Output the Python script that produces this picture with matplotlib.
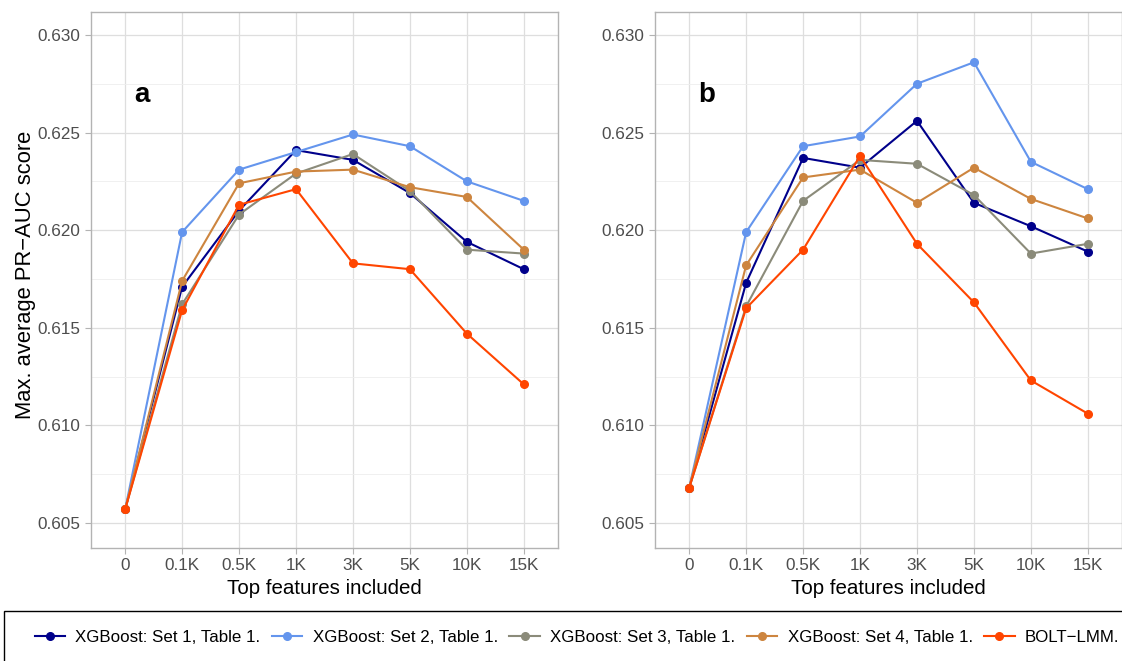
import numpy as np
import matplotlib.pyplot as plt
from matplotlib.patches import Rectangle
from matplotlib.ticker import MultipleLocator

plt.rcParams['font.family'] = ['Liberation Sans', 'DejaVu Sans']

# categorias del eje x
features = ['0', '0.1K', '0.5K', '1K', '3K', '5K', '10K', '15K']

series_names = ['XGBoost: Set 1, Table 1.', 'XGBoost: Set 2, Table 1.',
                'XGBoost: Set 3, Table 1.', 'XGBoost: Set 4, Table 1.', 'BOLT\u2212LMM.']
colors = ['#00008B', '#6495ED', '#8B8B7A', '#CD853F', '#FF4500']

# panel a
a_set1 = [0.6057, 0.6171, 0.6210, 0.6241, 0.6236, 0.6219, 0.6194, 0.6180]
a_set2 = [0.6057, 0.6199, 0.6231, 0.6240, 0.6249, 0.6243, 0.6225, 0.6215]
a_set3 = [0.6057, 0.6162, 0.6208, 0.6229, 0.6239, 0.6220, 0.6190, 0.6188]
a_set4 = [0.6057, 0.6174, 0.6224, 0.6230, 0.6231, 0.6222, 0.6217, 0.6190]
a_bolt = [0.6057, 0.6159, 0.6213, 0.6221, 0.6183, 0.6180, 0.6147, 0.6121]

# panel b
b_set1 = [0.6068, 0.6173, 0.6237, 0.6232, 0.6256, 0.6214, 0.6202, 0.6189]
b_set2 = [0.6068, 0.6199, 0.6243, 0.6248, 0.6275, 0.6286, 0.6235, 0.6221]
b_set3 = [0.6068, 0.6161, 0.6215, 0.6236, 0.6234, 0.6218, 0.6188, 0.6193]
b_set4 = [0.6068, 0.6182, 0.6227, 0.6231, 0.6214, 0.6232, 0.6216, 0.6206]
b_bolt = [0.6068, 0.6160, 0.6190, 0.6238, 0.6193, 0.6163, 0.6123, 0.6106]

panels = [('a', [a_set1, a_set2, a_set3, a_set4, a_bolt]),
          ('b', [b_set1, b_set2, b_set3, b_set4, b_bolt])]

fig = plt.figure(figsize=(11.22, 6.61), dpi=100)
ax_a = fig.add_axes([0.0811, 0.171, 0.4162, 0.811])
ax_b = fig.add_axes([0.5838, 0.171, 0.4162, 0.811])

x = np.arange(len(features))
for ax, (letter, data) in zip([ax_a, ax_b], panels):
    for vals, name, c in zip(data, series_names, colors):
        ax.plot(x, vals, color=c, lw=1.5, marker='o', markersize=5.5, label=name, zorder=3)
    ax.set_xlim(-0.6, 7.6)
    ax.set_xticks(x)
    ax.set_xticklabels(features)
    ax.yaxis.set_major_locator(MultipleLocator(0.005))
    ax.yaxis.set_minor_locator(MultipleLocator(0.0025))
    ax.set_ylim(0.60372, 0.63118)
    ax.yaxis.set_major_formatter(lambda v, pos: '%.3f' % v)
    ax.grid(True, which='major', color='#DEDEDE', lw=0.9, zorder=0)
    ax.grid(True, which='minor', axis='y', color='#EEEEEE', lw=0.6, zorder=0)
    ax.tick_params(which='major', colors='#B3B3B3', labelcolor='#4D4D4D', labelsize=12.3,
                   length=4, width=0.8)
    ax.tick_params(which='minor', length=0)
    for s in ax.spines.values():
        s.set_color('#B3B3B3')
        s.set_linewidth(1.0)
    ax.set_xlabel('Top features included', fontsize=14.8, labelpad=4)
    ax.text(0.3, 0.6269, letter, fontsize=20, fontweight='bold', ha='center', va='center')

ax_a.set_ylabel('Max. average PR\u2212AUC score', fontsize=15.8)
ax_a.yaxis.set_label_coords(-0.1178, 0.510)

# caja de la leyenda (sale por la derecha de la imagen)
fig.patches.append(Rectangle((4 / 1122, -0.02), 1.05, 1 - 611 / 661 + 0.02,
                             transform=fig.transFigure, facecolor='white',
                             edgecolor='black', lw=1.0, zorder=0))

handles, labels = ax_a.get_legend_handles_labels()
leg = fig.legend(handles, labels, loc='center left', ncol=5, mode='expand',
                 bbox_to_anchor=(16 / 1122, 0.0363, 1.0, 0.0), fontsize=12.2,
                 frameon=False, handlelength=1.8,
                 handletextpad=0.6, borderpad=1.1, borderaxespad=0)

plt.savefig('out.png', dpi=100)
